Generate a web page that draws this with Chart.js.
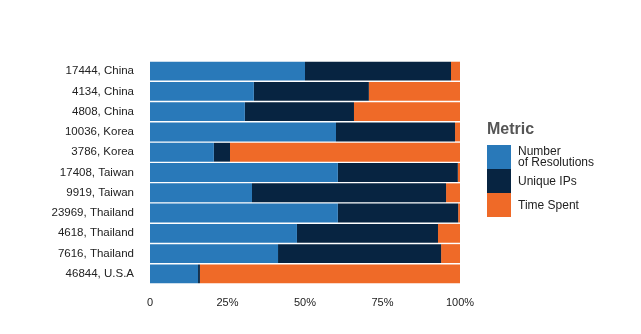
<!DOCTYPE html>
<html>
<head>
<meta charset="utf-8">
<script src="https://cdn.jsdelivr.net/npm/chart.js@4/dist/chart.umd.min.js"></script>
<style>
  html, body { margin: 0; padding: 0; background: #fff; }
  #wrap { position: relative; width: 641px; height: 334px; }
  #legend { position: absolute; left: 487px; top: 120px; font-family: 'Liberation Sans', Arial, sans-serif; }
  #legend .title { font-size: 16px; font-weight: bold; color: #555; margin-bottom: 7px; }
  #legend .row { display: flex; align-items: center; height: 24px; }
  #legend .sw { width: 24px; height: 24px; flex: none; }
  #legend .lbl { margin-left: 7px; font-size: 12px; line-height: 11px; color: #222; }
</style>
</head>
<body>
<div id="wrap">
  <canvas id="chart" width="641" height="334"></canvas>
  <div id="legend"></div>
</div>
<script>
/* 100% stacked bars: share of each metric per AS / country */

const categories = ['17444, China', '4134, China', '4808, China', '10036, Korea', '3786, Korea',
  '17408, Taiwan', '9919, Taiwan', '23969, Thailand', '4618, Thailand', '7616, Thailand', '46844, U.S.A'];
const resolutions = [50.0, 33.5, 30.6, 60.0, 20.6, 60.6, 32.9, 60.6, 47.4, 41.3, 15.5];
const uniqueIPs   = [47.1, 37.1, 35.2, 38.4, 5.2, 38.7, 62.6, 38.8, 45.5, 52.6, 0.6];
const timeSpent   = [2.9, 29.4, 34.2, 1.6, 74.2, 0.7, 4.5, 0.6, 7.1, 6.1, 83.9];
const seriesLabels = [['Number', 'of Resolutions'], ['Unique IPs'], ['Time Spent']];
const xTicks = [0, 25, 50, 75, 100];

const COLORS = ['#2979b9', '#072441', '#ef6a28'];
const FONT = "'Liberation Sans', Arial, sans-serif";

const datasets = [resolutions, uniqueIPs, timeSpent].map((d, i) => ({
  label: seriesLabels[i].join(' '),
  data: d,
  backgroundColor: COLORS[i],
  borderWidth: 0,
  barPercentage: 0.93,
  categoryPercentage: 1
}));

new Chart(document.getElementById('chart'), {
  type: 'bar',
  data: { labels: categories, datasets: datasets },
  options: {
    indexAxis: 'y',
    responsive: false,
    animation: false,
    layout: { padding: { top: 61, right: 181, bottom: 0, left: 0 } },
    plugins: { legend: { display: false }, tooltip: { enabled: false } },
    scales: {
      x: {
        stacked: true,
        min: 0,
        max: 100,
        afterBuildTicks: s => { s.ticks = xTicks.map(v => ({ value: v })); },
        afterFit: s => { s.height = 50; },
        grid: { display: false },
        border: { display: false },
        ticks: {
          color: '#222',
          padding: 4,
          font: { family: FONT, size: 11 },
          callback: v => v === 0 ? '0' : v + '%'
        }
      },
      y: {
        stacked: true,
        afterFit: s => { s.width = 150; },
        grid: { display: false },
        border: { display: false },
        ticks: {
          color: '#222',
          padding: 8,
          font: { family: FONT, size: 11.5 }
        }
      }
    }
  }
});

// ── Legend ───────────────────────────────────────────────────
const legend = document.getElementById('legend');
legend.innerHTML = '<div class="title">Metric</div>' + seriesLabels.map((l, i) =>
  `<div class="row"><span class="sw" style="background:${COLORS[i]}"></span><span class="lbl">${l.join('<br>')}</span></div>`
).join('');
</script>
</body>
</html>
